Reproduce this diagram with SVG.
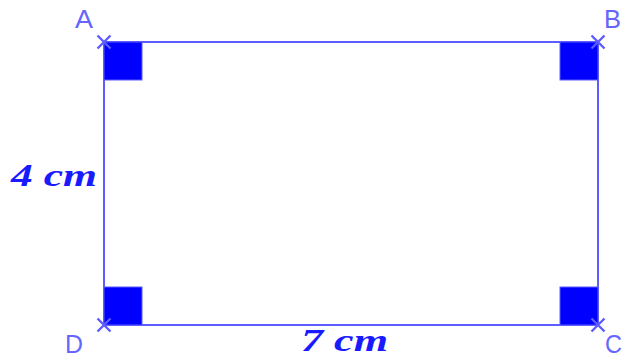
<svg xmlns="http://www.w3.org/2000/svg" width="632" height="360" viewBox="0 0 632 360">
<style>
.edge{stroke:#5c5cff;stroke-width:2;fill:none}
.right{fill:#0000ff;stroke:#5c5cff;stroke-width:1}
.pt{stroke:#5c5cff;stroke-width:2.4;fill:none}
.lbl{font-family:"Liberation Sans",Arial,sans-serif;font-size:25px;fill:#6666ff}
.meas{font-family:"Liberation Serif","Times New Roman",serif;font-size:32px;font-weight:bold;font-style:italic;fill:#1a1aff}
</style>
<rect width="632" height="360" fill="#ffffff"/>
<g id="connectors">
<line class="edge" x1="104" y1="42" x2="598" y2="42"/>
<line class="edge" x1="598" y1="42" x2="598" y2="325"/>
<line class="edge" x1="598" y1="325" x2="104" y2="325"/>
<line class="edge" x1="104" y1="325" x2="104" y2="42"/>
</g>
<g id="angleA"><rect class="right" x="104" y="42" width="38" height="38"/></g>
<g id="angleB"><rect class="right" x="560" y="42" width="38" height="38"/></g>
<g id="angleC"><rect class="right" x="560" y="287" width="38" height="38"/></g>
<g id="angleD"><rect class="right" x="104" y="287" width="38" height="38"/></g>
<g id="A">
<path class="pt" d="M97.5 35.5L110.5 48.5M97.5 48.5L110.5 35.5"/>
<text class="lbl" x="75" y="28" textLength="18" lengthAdjust="spacingAndGlyphs">A</text>
</g>
<g id="B">
<path class="pt" d="M591.5 35.5L604.5 48.5M591.5 48.5L604.5 35.5"/>
<text class="lbl" x="604" y="28" textLength="17" lengthAdjust="spacingAndGlyphs">B</text>
</g>
<g id="C">
<path class="pt" d="M591.5 318.5L604.5 331.5M591.5 331.5L604.5 318.5"/>
<text class="lbl" x="605" y="353" textLength="17" lengthAdjust="spacingAndGlyphs">C</text>
</g>
<g id="D">
<path class="pt" d="M97.5 318.5L110.5 331.5M97.5 331.5L110.5 318.5"/>
<text class="lbl" x="65" y="353" textLength="18" lengthAdjust="spacingAndGlyphs">D</text>
</g>
<g id="side4">
<text class="meas" x="11" y="186" textLength="86" lengthAdjust="spacingAndGlyphs">4 cm</text>
</g>
<g id="side7">
<text class="meas" x="301" y="351" textLength="87" lengthAdjust="spacingAndGlyphs">7 cm</text>
</g>
</svg>
